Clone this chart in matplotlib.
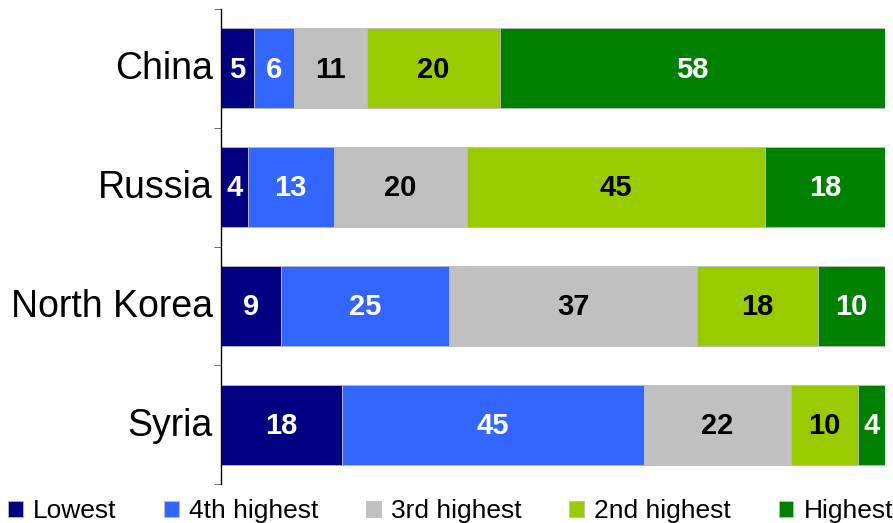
import numpy as np
import matplotlib
matplotlib.use("Agg")
import matplotlib.pyplot as plt
import matplotlib.transforms as mtransforms

plt.rcParams["font.family"] = ["Liberation Sans", "DejaVu Sans"]

countries = ["China", "Russia", "North Korea", "Syria"]
series_names = ["Lowest", "4th highest", "3rd highest", "2nd highest", "Highest"]
lowest = [5, 4, 9, 18]
fourth = [6, 13, 25, 45]
third = [11, 20, 37, 22]
second = [20, 45, 18, 10]
highest = [58, 18, 10, 4]

colors = ["#000080", "#3366FF", "#C0C0C0", "#99CC00", "#008000"]
text_colors = ["white", "white", "black", "black", "white"]

series = np.array([lowest, fourth, third, second, highest], dtype=float)
# bars are drawn as shares of 100 (rounded values don't always add up)
shares = series / series.sum(axis=0) * 100

fig = plt.figure(figsize=(8.93, 5.23), dpi=100)
ax = fig.add_axes([221 / 893, 1 - 484 / 523, 664 / 893, 475 / 523])

y = np.arange(len(countries))
left = np.zeros(len(countries))
for i in range(len(series_names)):
    ax.barh(y, shares[i], left=left, height=0.675, color=colors[i],
            edgecolor="#BBBBBB", linewidth=0.6, label=series_names[i])
    for j in range(len(countries)):
        ax.text(left[j] + shares[i][j] / 2, y[j] + 0.01, str(int(series[i][j])),
                ha="center", va="center", color=text_colors[i],
                fontsize=21, fontweight="bold")
    left += shares[i]

ax.set_xlim(0, 100)
ax.set_ylim(len(countries) - 0.5, -0.5)
ax.set_yticks(y)
ax.set_yticklabels(countries, fontsize=27)
ax.set_yticks(np.arange(len(countries) + 1) - 0.5, minor=True)
ax.tick_params(axis="y", which="major", length=0, pad=6)
ax.tick_params(axis="y", which="minor", length=5, color="#555555")
ax.set_xticks([])
for side in ["top", "right", "bottom"]:
    ax.spines[side].set_visible(False)
ax.spines["left"].set_linewidth(1.0)

# nudge the country names up a little
shift = mtransforms.ScaledTranslation(0, 3 / 100, fig.dpi_scale_trans)
for lbl in ax.get_yticklabels():
    lbl.set_transform(lbl.get_transform() + shift)

fig.legend(loc="center left", bbox_to_anchor=(8 / 893, 1 - 511 / 523),
           ncol=5, frameon=False, fontsize=19, borderpad=0, borderaxespad=0,
           handlelength=0.55, handleheight=0.55, handletextpad=0.4,
           columnspacing=1.8)

fig.savefig("out.png", dpi=100)
plt.close(fig)
